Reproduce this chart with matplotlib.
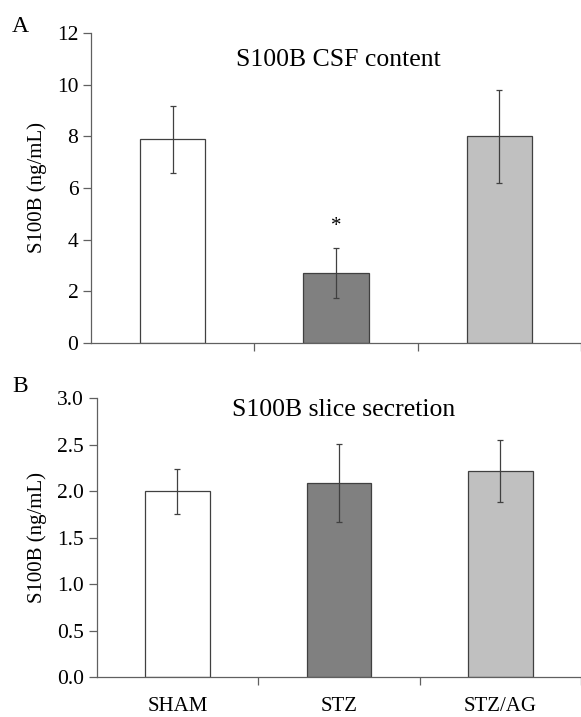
import numpy as np
import matplotlib
matplotlib.use('Agg')
import matplotlib.pyplot as plt

plt.rcParams['font.family'] = ['Liberation Serif', 'DejaVu Serif']

groups = ['SHAM', 'STZ', 'STZ/AG']
colors = ['#ffffff', '#808080', '#c0c0c0']

# A: CSF content
csf_mean = [7.88, 2.70, 8.00]
csf_err = [1.31, 0.96, 1.80]

# B: slice secretion
slice_mean = [2.00, 2.09, 2.22]
slice_err = [0.245, 0.42, 0.335]

fig = plt.figure(figsize=(5.81, 7.17), dpi=100)
axA = fig.add_axes([0.1566, 0.5216, 0.8434, 0.4324])
axB = fig.add_axes([0.1664, 0.0554, 0.8336, 0.3891])

x = np.arange(len(groups))

def style(ax, vals, errs, ymax, step, fmt):
    ax.bar(x, vals, width=0.4, color=colors, edgecolor='#404040', linewidth=0.9, zorder=2)
    ax.errorbar(x, vals, yerr=errs, fmt='none', ecolor='#404040',
                elinewidth=0.9, capsize=2.5, capthick=0.9, zorder=3)
    ax.set_xlim(-0.5, 2.5)
    ax.set_ylim(0, ymax)
    yt = np.arange(0, ymax + step / 2, step)
    ax.set_yticks(yt)
    ax.set_yticklabels([fmt % v for v in yt])
    for s in ['top', 'right']:
        ax.spines[s].set_visible(False)
    for s in ['left', 'bottom']:
        ax.spines[s].set_color('#606060')
        ax.spines[s].set_linewidth(0.9)
    ax.tick_params(axis='y', direction='out', length=6, width=0.9, color='#606060',
                   labelsize=15.5, pad=3)
    ax.set_xticks([0.5, 1.5, 2.5], minor=True)
    ax.tick_params(axis='x', which='minor', direction='out', length=6, width=0.9, color='#606060')
    ax.set_xticks(x)
    ax.tick_params(axis='x', which='major', length=0, labelsize=15, pad=14)
    ax.set_ylabel('S100B (ng/mL)', fontsize=15, labelpad=7)

style(axA, csf_mean, csf_err, 12, 2, '%d')
axA.set_xticklabels([])
axA.text(1, 4.5, '*', ha='center', va='center', fontsize=15)

style(axB, slice_mean, slice_err, 3.0, 0.5, '%.1f')
axB.set_xticklabels(groups)

fig.text(0.5826, 0.908, 'S100B CSF content', ha='center', va='baseline', fontsize=18.5)
fig.text(0.591, 0.4202, 'S100B slice secretion', ha='center', va='baseline', fontsize=18.5)

fig.text(0.0353, 0.9558, 'A', fontsize=17, ha='center', va='baseline')
fig.text(0.0353, 0.4537, 'B', fontsize=17, ha='center', va='baseline')

fig.savefig('out.png', dpi=100)
